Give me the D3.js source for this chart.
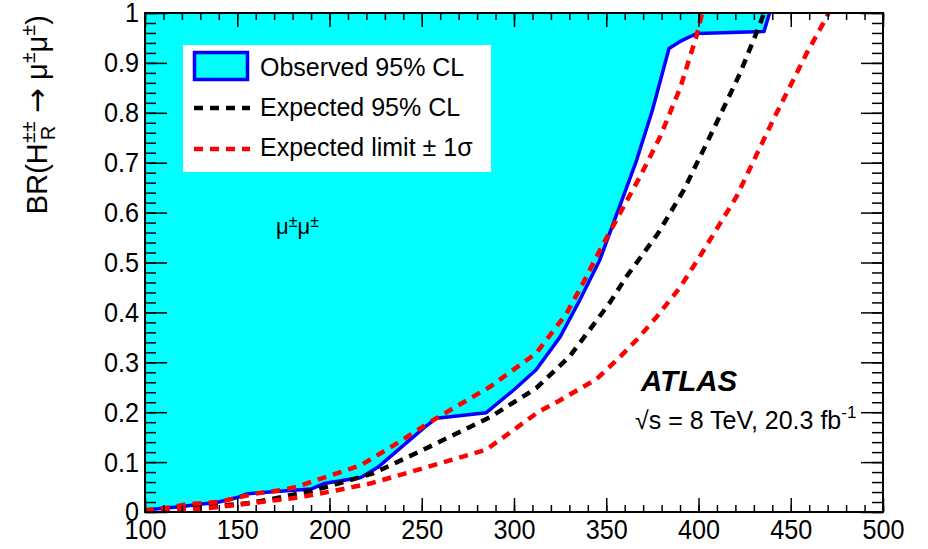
<!DOCTYPE html>
<html>
<head>
<meta charset="utf-8">
<script src="https://cdn.jsdelivr.net/npm/d3@7"></script>
<style>
  html, body { margin: 0; padding: 0; background: #fff; }
  svg { display: block; }
  text { font-family: "Liberation Sans", Arial, Helvetica, sans-serif; }
</style>
</head>
<body>
<script>
// ---- data (mass in GeV, BR) ----
const observed = [
  [100,0.004],[120,0.011],[140,0.020],[150,0.029],[155,0.036],[160,0.038],[190,0.046],
  [197,0.057],[217,0.069],[226,0.089],[251,0.168],[258,0.188],[285,0.199],[300,0.245],
  [312,0.285],[325,0.351],[335,0.420],[346.5,0.505],[356,0.600],[366,0.700],[375,0.805],
  [384,0.929],[390,0.943],[399,0.959],[435.5,0.963],[438.5,1.0]
];
const expected = [
  [100,0.002],[125,0.008],[145,0.014],[157,0.018],[173,0.029],[190,0.042],[202,0.054],
  [224,0.078],[251,0.125],[287,0.190],[312,0.248],[330,0.311],[341,0.365],[352,0.420],
  [361,0.472],[378,0.558],[392,0.645],[408,0.766],[422.5,0.879],[433,0.975],[435.5,1.0]
];
const expMinus1s = [
  [100,0.004],[114,0.009],[123,0.016],[140,0.020],[149,0.028],[160,0.037],[174,0.044],
  [183,0.051],[192,0.063],[208,0.082],[217,0.094],[235,0.134],[257,0.186],[287,0.251],
  [312,0.318],[328.5,0.398],[337.6,0.460],[346.6,0.525],[357.5,0.599],[368.3,0.672],
  [379.2,0.752],[390,0.849],[399,0.955],[402,1.0]
];
const expPlus1s = [
  [100,0.001],[135,0.008],[147,0.013],[165,0.021],[181,0.028],[195,0.037],[222,0.057],
  [251,0.088],[285,0.125],[300,0.165],[313,0.200],[325,0.224],[345,0.267],[357.5,0.311],
  [366.5,0.345],[377.3,0.391],[390,0.450],[401.7,0.518],[420.6,0.632],[440.5,0.786],
  [458.6,0.919],[468.6,0.986],[470.5,1.0]
];
const xTickLabels = [100,150,200,250,300,350,400,450,500];
const yTickLabels = [0,0.1,0.2,0.3,0.4,0.5,0.6,0.7,0.8,0.9,1];
const legendLabels = ["Observed 95% CL", "Expected 95% CL", "Expected limit \u00b1 1\u03c3"];

// ---- layout ----
const W = 928, H = 549;
const L = 145, R = 883, T = 13, B = 512;
const x = d3.scaleLinear().domain([100, 500]).range([L, R]);
const y = d3.scaleLinear().domain([0, 1]).range([B, T]);

const svg = d3.select("body").append("svg").attr("width", W).attr("height", H);

svg.append("defs").append("clipPath").attr("id", "clip")
  .append("rect").attr("x", L).attr("y", T).attr("width", R - L).attr("height", B - T);

const plot = svg.append("g").attr("clip-path", "url(#clip)");

// excluded area (above observed limit)
const fillPts = observed.concat([[438.5, 1.0], [100, 1.0]]);
plot.append("path")
  .attr("d", d3.line().x(d => x(d[0])).y(d => y(d[1]))(fillPts) + "Z")
  .attr("fill", "#00ffff").attr("stroke", "none");

const line = d3.line().x(d => x(d[0])).y(d => y(d[1]));
plot.append("path").attr("d", line(observed))
  .attr("fill", "none").attr("stroke", "#0000ff").attr("stroke-width", 3.5)
  .attr("stroke-linejoin", "round");
plot.append("path").attr("d", line(expected))
  .attr("fill", "none").attr("stroke", "#000").attr("stroke-width", 4.5)
  .attr("stroke-dasharray", "9,7");
[expMinus1s, expPlus1s].forEach(s => {
  plot.append("path").attr("d", line(s))
    .attr("fill", "none").attr("stroke", "#ff0000").attr("stroke-width", 4.5)
    .attr("stroke-dasharray", "9,7");
});

// ---- axes (ticks inward on all four sides) ----
const xMinor = d3.range(100, 501, 10);
const yMinor = d3.range(0, 1.0001, 0.02);
function styleAxis(g) { g.select(".domain").remove(); g.selectAll("line").attr("stroke", "#000").attr("stroke-width", 1.5); }

const lblSize = 28, lblScale = 0.9;
svg.append("g").attr("transform", `translate(0,${B})`)
  .call(d3.axisBottom(x).tickValues(xMinor).tickSize(-7).tickFormat(""))
  .call(styleAxis).selectAll("text").remove();
svg.append("g").attr("transform", `translate(0,${B})`)
  .call(d3.axisBottom(x).tickValues(xTickLabels).tickSize(-14).tickPadding(7).tickFormat(d3.format("d")))
  .call(styleAxis)
  .call(g => g.selectAll("text").attr("font-size", lblSize).attr("fill", "#000")
    .attr("font-family", "Liberation Sans, Arial, sans-serif")
    .attr("transform", `scale(${lblScale},1)`));
svg.append("g").attr("transform", `translate(0,${T})`)
  .call(d3.axisTop(x).tickValues(xMinor).tickSize(-7).tickFormat(""))
  .call(styleAxis);
svg.append("g").attr("transform", `translate(0,${T})`)
  .call(d3.axisTop(x).tickValues(xTickLabels).tickSize(-14).tickFormat(""))
  .call(styleAxis);

svg.append("g").attr("transform", `translate(${L},0)`)
  .call(d3.axisLeft(y).tickValues(yMinor).tickSize(-11).tickFormat(""))
  .call(styleAxis);
svg.append("g").attr("transform", `translate(${L},0)`)
  .call(d3.axisLeft(y).tickValues(yTickLabels).tickSize(-22).tickPadding(6).tickFormat(d => d === 0 ? "0" : d === 1 ? "1" : d3.format(".1f")(d)))
  .call(styleAxis)
  .call(g => g.selectAll("text").attr("font-size", lblSize).attr("fill", "#000")
    .attr("font-family", "Liberation Sans, Arial, sans-serif")
    .attr("x", -6 / lblScale)
    .attr("transform", `scale(${lblScale},1)`));
svg.append("g").attr("transform", `translate(${R},0)`)
  .call(d3.axisRight(y).tickValues(yMinor).tickSize(-11).tickFormat(""))
  .call(styleAxis);
svg.append("g").attr("transform", `translate(${R},0)`)
  .call(d3.axisRight(y).tickValues(yTickLabels).tickSize(-22).tickFormat(""))
  .call(styleAxis);

// frame
svg.append("rect").attr("x", L).attr("y", T).attr("width", R - L).attr("height", B - T)
  .attr("fill", "none").attr("stroke", "#000").attr("stroke-width", 2);

// ---- y-axis title ----
const yt = svg.append("text")
  .attr("transform", `translate(47,15) rotate(-90)`)
  .attr("text-anchor", "end").attr("font-size", 29).attr("fill", "#000");
yt.append("tspan").text("BR(H");
yt.append("tspan").attr("font-size", 20).attr("dy", -12).text("\u00b1\u00b1");
yt.append("tspan").attr("font-size", 20).attr("dx", -19).attr("dy", 20).text("R");
yt.append("tspan").attr("dx", 4.5).attr("dy", -8).text(" ");
yt.append("tspan").attr("font-family", "DejaVu Sans, sans-serif").attr("font-size", 30).text("\u2192");
yt.append("tspan").text(" \u03bc");
yt.append("tspan").attr("font-size", 20).attr("dy", -12).text("\u00b1");
yt.append("tspan").attr("dy", 12).text("\u03bc");
yt.append("tspan").attr("font-size", 20).attr("dy", -12).text("\u00b1");
yt.append("tspan").attr("dy", 12).text(")");

// ---- legend ----
const lg = svg.append("g");
lg.append("rect").attr("x", 183).attr("y", 45).attr("width", 308).attr("height", 127).attr("fill", "#fff");
lg.append("rect").attr("x", 194.5).attr("y", 52.5).attr("width", 53).attr("height", 27)
  .attr("fill", "#00ffff").attr("stroke", "#0000ff").attr("stroke-width", 3.5);
lg.append("line").attr("x1", 194).attr("x2", 250).attr("y1", 108).attr("y2", 108)
  .attr("stroke", "#000").attr("stroke-width", 4.5).attr("stroke-dasharray", "9,7");
lg.append("line").attr("x1", 194).attr("x2", 250).attr("y1", 149).attr("y2", 149)
  .attr("stroke", "#ff0000").attr("stroke-width", 4.5).attr("stroke-dasharray", "9,7");
[76, 116, 156].forEach((yy, i) => {
  lg.append("text").attr("x", 260).attr("y", yy).attr("font-size", 25).attr("fill", "#000")
    .text(legendLabels[i]);
});

// ---- annotations ----
const mu = svg.append("text").attr("x", 276).attr("y", 234)
  .attr("font-family", "Liberation Serif, Times New Roman, serif").attr("font-size", 22).attr("fill", "#000");
mu.append("tspan").text("\u03bc");
mu.append("tspan").attr("font-size", 16).attr("dy", -7).text("\u00b1");
mu.append("tspan").attr("dy", 7).text("\u03bc");
mu.append("tspan").attr("font-size", 16).attr("dy", -7).text("\u00b1");

svg.append("text").attr("x", 641).attr("y", 391)
  .attr("font-size", 29.5).attr("font-weight", "bold").attr("font-style", "italic").attr("fill", "#000")
  .text("ATLAS");

const en = svg.append("text").attr("x", 635).attr("y", 429).attr("font-size", 25).attr("fill", "#000");
en.append("tspan").text("\u221as = 8 TeV, 20.3 fb");
en.append("tspan").attr("font-size", 17).attr("dy", -11).text("-1");
</script>
</body>
</html>
